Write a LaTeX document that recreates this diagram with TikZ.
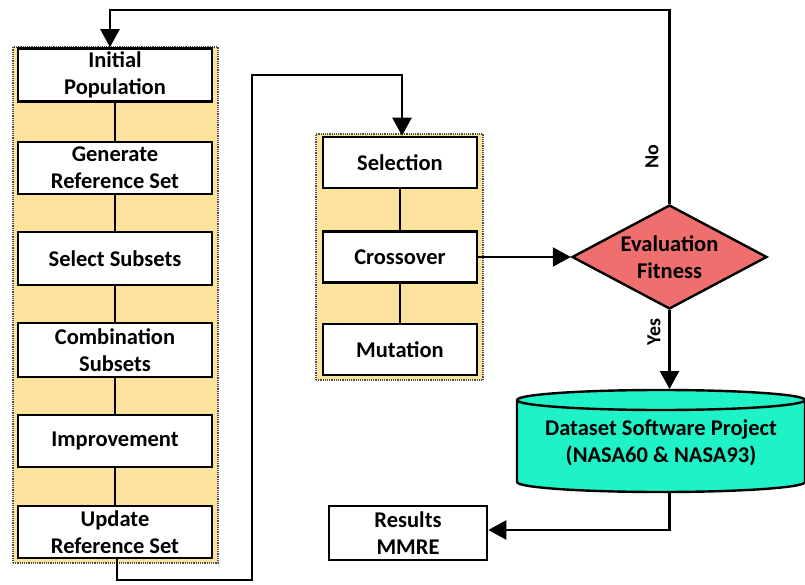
\documentclass[tikz,border=0pt]{standalone}
\usepackage{fontspec}
\setmainfont{Carlito}
\usetikzlibrary{shapes.geometric,arrows.meta}
\definecolor{panely}{HTML}{FBE39E}
\definecolor{diamr}{HTML}{EF6E6E}
\definecolor{cyl}{HTML}{1EF2C6}
\tikzset{
  x=1pt,y=-1pt,
  every node/.style={font=\fontsize{22.5}{27}\selectfont\bfseries, align=center, inner sep=0pt},
  panel/.style={draw=black!70, densely dotted, line width=1.2pt, fill=panely},
  stepbox/.style={draw=black, line width=2.6pt, fill=white, minimum width=194pt},
  link/.style={line width=2.4pt},
  arr/.style={line width=2.4pt, -{Triangle[length=18pt,width=19pt]}},
}
\begin{document}
\begin{tikzpicture}
\useasboundingbox (0,0) rectangle (805,585);
% panels
\node[panel, minimum width=205pt, minimum height=516pt] (lp) at (115.5,305) {};
\node[panel, minimum width=167pt, minimum height=246pt] (mp) at (399.5,257) {};
% left boxes
\node[stepbox, minimum height=53pt] (ip) at (115,75) {Initial\\Population};
\node[stepbox, minimum height=52pt] (gr) at (115,168) {Generate\\Reference Set};
\node[stepbox, minimum height=53pt] (ss) at (115,258.5) {Select Subsets};
\node[stepbox, minimum height=54pt] (cs) at (115,350) {Combination\\Subsets};
\node[stepbox, minimum height=52pt] (im) at (115,441) {Improvement};
\node[stepbox, minimum height=52pt] (ur) at (115,532) {Update\\Reference Set};
\draw[link] (ip) -- (gr);
\draw[link] (gr) -- (ss);
\draw[link] (ss) -- (cs);
\draw[link] (cs) -- (im);
\draw[link] (im) -- (ur);
% middle boxes
\node[stepbox, minimum width=154pt, minimum height=51pt] (se) at (400,162.5) {Selection};
\node[stepbox, minimum width=154pt, minimum height=51pt] (co) at (400,257) {Crossover};
\node[stepbox, minimum width=154pt, minimum height=51pt] (mu) at (400,349.5) {Mutation};
\draw[link] (se) -- (co);
\draw[link] (co) -- (mu);
% diamond
\node[diamond, draw=black, line width=2.4pt, fill=diamr, minimum width=195pt, minimum height=104pt, aspect=1.9] (ev) at (669.5,257) {Evaluation\\Fitness};
% cylinder drawn directly
\draw[line width=2.4pt, fill=cyl] (517,400) -- (517,482) arc[start angle=180, end angle=0, x radius=144, y radius=10] -- (805,400) arc[start angle=0, end angle=-180, x radius=144, y radius=10] -- cycle;
\draw[line width=2.4pt] (517,400) arc[start angle=180, end angle=0, x radius=144, y radius=10];
\node[minimum width=288pt, minimum height=102pt] (ds) at (661,443) {Dataset Software Project\\(NASA60 \& NASA93)};
% results
\node[stepbox, minimum width=158pt, minimum height=54pt] (rs) at (408,533) {Results\\MMRE};
% connectors
\coordinate (t1) at (669.5,10);
\coordinate (t2) at (110,10);
\draw[arr] (ev.north) -- (t1) -- (t2) -- (t2 |- ip.north);
\coordinate (b1) at (117,580);
\coordinate (b2) at (252,580);
\coordinate (b3) at (252,75);
\coordinate (b4) at (402,75);
\draw[arr] (ur.south -| b1) -- (b1) -- (b2) -- (b3) -- (b4) -- (b4 |- se.north);
\draw[arr] (co.east) -- (ev.west);
\coordinate (d1) at (669.5,389);
\draw[arr] (ev.south) -- (d1);
\coordinate (c1) at (669.5,530);
\coordinate (c0) at (669.5,491);
\draw[arr] (c0) -- (c1) -- (c1 -| rs.east);
\node[rotate=90, font=\fontsize{20}{22}\selectfont\bfseries] (no) at (652,157) {No};
\node[rotate=90, font=\fontsize{20}{22}\selectfont\bfseries] (yes) at (654,332) {Yes};
\end{tikzpicture}
\end{document}
